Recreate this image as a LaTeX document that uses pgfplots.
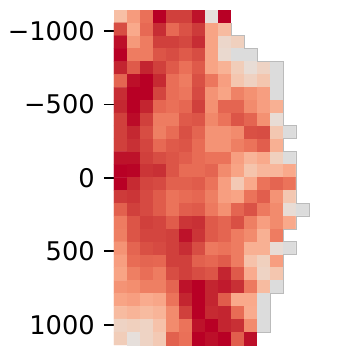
\documentclass[border=0pt]{standalone}
\usepackage{fontspec}
\setmainfont{DejaVu Sans}
\usepackage{pgfplots}
\pgfplotsset{compat=1.18}
\begin{document}
\begin{tikzpicture}
\useasboundingbox (-114pt,0pt) rectangle (247pt,345pt);
\begin{axis}[
    scale only axis,
    width=195pt, height=335pt,
    at={(0pt,0pt)}, anchor=south west,
    y dir=reverse,
    xmin=-0.5, xmax=14.5, ymin=-1143, ymax=1137,
    enlargelimits=false,
    clip=false,
    axis line style={draw=none},
    xtick=\empty,
    ytick={-1000,-500,0,500,1000},
    yticklabels={−1000,−500,0,500,1000},
    ytick pos=left,
    tick align=outside,
    major tick length=10pt,
    tick style={black, line width=1.9pt},
    yticklabel style={font=\fontsize{25.7}{30}\selectfont, inner sep=0pt, xshift=-9pt},
    colormap={heat}{
        color(-3)=(white) color(-2)=(white)
        rgb255(-1.9)=(220,220,220) rgb255(-0.1)=(220,220,220)
        rgb255(0)=(230,223,219) rgb255(1)=(240,208,190) rgb255(2)=(247,191,165)
        rgb255(3)=(249,169,139) rgb255(4)=(243,142,111) rgb255(5)=(234,112,88)
        rgb255(6)=(223,90,74) rgb255(7)=(208,64,60) rgb255(8)=(195,37,48)
        rgb255(9)=(184,0,37)
    },
    point meta min=-3, point meta max=9,
]
% -3 = empty cell, -1.5 = grey cell
\addplot [matrix plot*, mesh/cols=15, point meta=explicit] coordinates {
(0,-1099)[2] (1,-1099)[3.5] (2,-1099)[5] (3,-1099)[9] (4,-1099)[7] (5,-1099)[7] (6,-1099)[8.5] (7,-1099)[0] (8,-1099)[9] (9,-1099)[-3] (10,-1099)[-3] (11,-1099)[-3] (12,-1099)[-3] (13,-1099)[-3] (14,-1099)[-3]

(0,-1011)[6.5] (1,-1011)[3] (2,-1011)[5.3] (3,-1011)[7.7] (4,-1011)[5.3] (5,-1011)[6.3] (6,-1011)[7.2] (7,-1011)[3.2] (8,-1011)[2.2] (9,-1011)[-3] (10,-1011)[-3] (11,-1011)[-3] (12,-1011)[-3] (13,-1011)[-3] (14,-1011)[-3]

(0,-924)[8.6] (1,-924)[3.6] (2,-924)[4.6] (3,-924)[7] (4,-924)[7] (5,-924)[6.7] (6,-924)[7.7] (7,-924)[3.2] (8,-924)[0.6] (9,-924)[1] (10,-924)[-3] (11,-924)[-3] (12,-924)[-3] (13,-924)[-3] (14,-924)[-3]

(0,-836)[9] (1,-836)[4.6] (2,-836)[4.6] (3,-836)[6.2] (4,-836)[6.5] (5,-836)[6] (6,-836)[6.5] (7,-836)[3.2] (8,-836)[0.4] (9,-836)[-1.5] (10,-836)[-1.5] (11,-836)[-3] (12,-836)[-3] (13,-836)[-3] (14,-836)[-3]

(0,-748)[8] (1,-748)[6] (2,-748)[8] (3,-748)[7] (4,-748)[6] (5,-748)[5] (6,-748)[6] (7,-748)[3.2] (8,-748)[2.6] (9,-748)[1.2] (10,-748)[0.2] (11,-748)[0.8] (12,-748)[-1.5] (13,-748)[-3] (14,-748)[-3]

(0,-661)[5.5] (1,-661)[8.6] (2,-661)[9] (3,-661)[7.8] (4,-661)[5.1] (5,-661)[4.6] (6,-661)[6.4] (7,-661)[4.8] (8,-661)[3.4] (9,-661)[1.6] (10,-661)[0.9] (11,-661)[1.6] (12,-661)[-1.5] (13,-661)[-3] (14,-661)[-3]

(0,-573)[7.7] (1,-573)[9] (2,-573)[9] (3,-573)[6.8] (4,-573)[5.1] (5,-573)[4.8] (6,-573)[6.6] (7,-573)[3.8] (8,-573)[3.2] (9,-573)[4.4] (10,-573)[3.9] (11,-573)[3.4] (12,-573)[-1.5] (13,-573)[-3] (14,-573)[-3]

(0,-485)[7.9] (1,-485)[9] (2,-485)[8] (3,-485)[5.4] (4,-485)[5] (5,-485)[5.4] (6,-485)[7] (7,-485)[3.9] (8,-485)[5.5] (9,-485)[5.5] (10,-485)[4.1] (11,-485)[3.4] (12,-485)[2.7] (13,-485)[-3] (14,-485)[-3]

(0,-398)[7] (1,-398)[8.7] (2,-398)[7] (3,-398)[4.6] (4,-398)[4.6] (5,-398)[6] (6,-398)[6.2] (7,-398)[4.2] (8,-398)[4.9] (9,-398)[6.2] (10,-398)[5.5] (11,-398)[3.9] (12,-398)[0.2] (13,-398)[-3] (14,-398)[-3]

(0,-310)[7] (1,-310)[7.9] (2,-310)[6.5] (3,-310)[4.5] (4,-310)[5.2] (5,-310)[6.4] (6,-310)[5.5] (7,-310)[3.8] (8,-310)[3.8] (9,-310)[4.1] (10,-310)[6.4] (11,-310)[6.5] (12,-310)[1.5] (13,-310)[-1.5] (14,-310)[-3]

(0,-222)[7] (1,-222)[7.6] (2,-222)[6.8] (3,-222)[5.3] (4,-222)[6] (5,-222)[6.2] (6,-222)[5.2] (7,-222)[3.8] (8,-222)[3.8] (9,-222)[4.5] (10,-222)[4.9] (11,-222)[5.8] (12,-222)[2.7] (13,-222)[-3] (14,-222)[-3]

(0,-135)[8.5] (1,-135)[8.5] (2,-135)[7] (3,-135)[6.5] (4,-135)[6.2] (5,-135)[5.8] (6,-135)[5.2] (7,-135)[4.9] (8,-135)[4.9] (9,-135)[3.4] (10,-135)[2.5] (11,-135)[3] (12,-135)[1] (13,-135)[-1.5] (14,-135)[-3]

(0,-47)[9] (1,-47)[8.9] (2,-47)[7.4] (3,-47)[7.6] (4,-47)[6.2] (5,-47)[5.2] (6,-47)[5.2] (7,-47)[5.5] (8,-47)[4.1] (9,-47)[3.2] (10,-47)[1.7] (11,-47)[2.4] (12,-47)[2.4] (13,-47)[3] (14,-47)[-3]

(0,41)[9] (1,41)[7.8] (2,41)[6.8] (3,41)[6.6] (4,41)[5.7] (5,41)[5.7] (6,41)[5.9] (7,41)[4.9] (8,41)[3.4] (9,41)[1.4] (10,41)[3] (11,41)[4.9] (12,41)[5.5] (13,41)[4.9] (14,41)[-3]

(0,128)[7.2] (1,128)[7.4] (2,128)[6.6] (3,128)[5.9] (4,128)[4.9] (5,128)[5.2] (6,128)[5.4] (7,128)[4.5] (8,128)[3.4] (9,128)[3.2] (10,128)[4.9] (11,128)[5.8] (12,128)[3.8] (13,128)[1.5] (14,128)[-3]

(0,216)[5.7] (1,216)[7] (2,216)[6.6] (3,216)[5.9] (4,216)[4.9] (5,216)[5.8] (6,216)[6] (7,216)[4.7] (8,216)[3.9] (9,216)[5.5] (10,216)[6.3] (11,216)[4.7] (12,216)[4.1] (13,216)[0.2] (14,216)[-1.5]

(0,304)[4.6] (1,304)[6.2] (2,304)[7] (3,304)[6.8] (4,304)[5.9] (5,304)[7.4] (6,304)[7.6] (7,304)[6] (8,304)[5.5] (9,304)[6.4] (10,304)[4.5] (11,304)[3.4] (12,304)[4.1] (13,304)[3] (14,304)[-3]

(0,391)[4.5] (1,391)[6.2] (2,391)[6.8] (3,391)[6.8] (4,391)[7] (5,391)[8.5] (6,391)[7.4] (7,391)[6] (8,391)[5.5] (9,391)[4.6] (10,391)[4.1] (11,391)[2.7] (12,391)[4.6] (13,391)[-3] (14,391)[-3]

(0,479)[3.8] (1,479)[5.5] (2,479)[6.4] (3,479)[6.6] (4,479)[7] (5,479)[7.7] (6,479)[6.5] (7,479)[4.7] (8,479)[4.9] (9,479)[4.6] (10,479)[2.7] (11,479)[2.7] (12,479)[0.2] (13,479)[-1.5] (14,479)[-3]

(0,567)[3.4] (1,567)[5.2] (2,567)[5.5] (3,567)[5.4] (4,567)[7] (5,567)[7] (6,567)[5.7] (7,567)[5.4] (8,567)[5.9] (9,567)[4.6] (10,567)[1.8] (11,567)[1] (12,567)[3.4] (13,567)[-3] (14,567)[-3]

(0,654)[3.2] (1,654)[4.5] (2,654)[5.1] (3,654)[4.6] (4,654)[6.5] (5,654)[7] (6,654)[6.5] (7,654)[6.2] (8,654)[8] (9,654)[6] (10,654)[2.9] (11,654)[0.8] (12,654)[1.6] (13,654)[-3] (14,654)[-3]

(0,742)[3.8] (1,742)[4] (2,742)[4.5] (3,742)[4.5] (4,742)[5.5] (5,742)[8.5] (6,742)[9] (7,742)[8] (8,742)[8.3] (9,742)[7.6] (10,742)[4.7] (11,742)[2.2] (12,742)[-1.5] (13,742)[-3] (14,742)[-3]

(0,830)[3.2] (1,830)[3.4] (2,830)[2.9] (3,830)[3.1] (4,830)[4.9] (5,830)[8] (6,830)[9] (7,830)[8] (8,830)[5.9] (9,830)[3] (10,830)[3] (11,830)[-1.5] (12,830)[-3] (13,830)[-3] (14,830)[-3]

(0,917)[2.2] (1,917)[2.5] (2,917)[2.2] (3,917)[2.5] (4,917)[4.1] (5,917)[7] (6,917)[9] (7,917)[7.8] (8,917)[8] (9,917)[5.2] (10,917)[2.9] (11,917)[-1.5] (12,917)[-3] (13,917)[-3] (14,917)[-3]

(0,1005)[0.8] (1,1005)[1] (2,1005)[0.8] (3,1005)[1.8] (4,1005)[4.1] (5,1005)[4.9] (6,1005)[8.5] (7,1005)[9] (8,1005)[8] (9,1005)[7.6] (10,1005)[4.1] (11,1005)[-1.5] (12,1005)[-3] (13,1005)[-3] (14,1005)[-3]

(0,1093)[1.2] (1,1093)[0] (2,1093)[0.8] (3,1093)[1.4] (4,1093)[5.7] (5,1093)[5] (6,1093)[9] (7,1093)[8.6] (8,1093)[9] (9,1093)[5.8] (10,1093)[8.6] (11,1093)[-3] (12,1093)[-3] (13,1093)[-3] (14,1093)[-3]
};
% staircase edge of the filled region
\addplot [no markers, color={rgb,255:red,187;green,187;blue,187}, line width=1pt, line join=miter] coordinates {
(8.5,-1055) (8.5,-967) (9.5,-967) (9.5,-880) (10.5,-880) (10.5,-792) (12.5,-792)
(12.5,-354) (13.5,-354) (13.5,-266) (12.5,-266) (12.5,-178) (13.5,-178)
(13.5,172) (14.5,172) (14.5,260) (13.5,260) (13.5,348) (12.5,348) (12.5,435)
(13.5,435) (13.5,523) (12.5,523) (12.5,786) (11.5,786) (11.5,1049) (10.5,1049)
};
\end{axis}
\end{tikzpicture}
\end{document}
